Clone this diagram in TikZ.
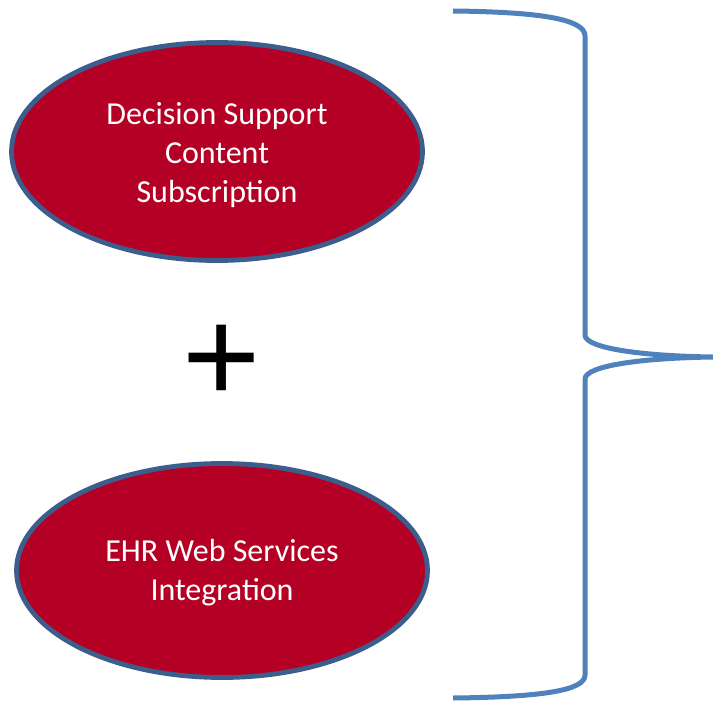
\documentclass[tikz,border=0pt]{standalone}
\usepackage{fontspec}
\setmainfont{Carlito}
\newfontfamily\plusfont{Liberation Sans}
\usetikzlibrary{shapes.geometric}
\definecolor{fillred}{HTML}{B40024}
\definecolor{edgeblue}{HTML}{3B5E8C}
\definecolor{bracecol}{HTML}{4F81BD}
\tikzset{
  oval/.style={ellipse, draw=edgeblue, line width=4.8pt, fill=fillred, inner sep=0pt,
    minimum width=411pt},
  ovaltext/.style={text=white, align=center, inner sep=0pt,
    font=\fontsize{32}{39}\selectfont},
  bracestyle/.style={draw=bracecol, line width=5pt}
}
\begin{document}
\begin{tikzpicture}[x=1pt,y=-1pt]
\useasboundingbox (0,0) rectangle (713,702);
\node[oval, minimum height=218pt] (e1) at (217,151.5) {};
\node[ovaltext] (t1) at ([yshift=-3.5pt]e1.center) {Decision Support\\Content\\Subscription};
\node[oval, minimum height=214pt] (e2) at (222,570.5) {};
\node[ovaltext] (t2) at ([yshift=-2pt]e2.center) {EHR Web Services\\Integration};
\node[anchor=base, inner sep=0pt, font=\plusfont\fontsize{134}{134}\selectfont] (plus) at (221.5,402.5) {+};
\coordinate (btop) at (453,11);
\coordinate (btip) at (713,357);
\coordinate (bbot) at (453,698);
\draw[bracestyle] (btop) .. controls (545,12) and (585,20) .. (585,36)
  -- (585,335) .. controls (585,348) and (640,356) .. (btip)
  .. controls (640,358) and (585,366) .. (585,379)
  -- (585,675) .. controls (585,690) and (545,697) .. (bbot);
\end{tikzpicture}
\end{document}
